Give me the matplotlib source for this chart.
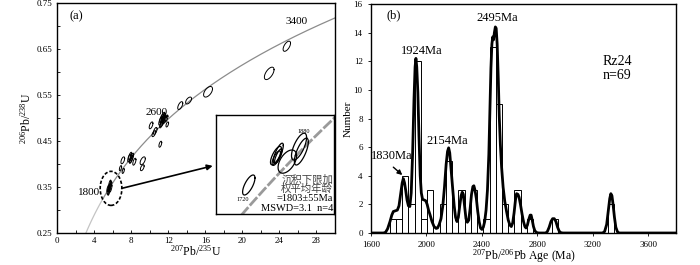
import numpy as np
import matplotlib
matplotlib.use("Agg")
import matplotlib.pyplot as plt
from matplotlib.patches import Ellipse
from matplotlib.ticker import MultipleLocator

plt.rcParams['font.family'] = ['Liberation Serif', 'Noto Sans CJK SC']
plt.rcParams['mathtext.fontset'] = 'custom'
plt.rcParams['mathtext.rm'] = 'Liberation Serif'
plt.rcParams['mathtext.it'] = 'Liberation Serif:italic'

# ---------------- data: panel (a) concordia ----------------
lam238 = 1.55125e-10
lam235 = 9.8485e-10
conc_ages_ma = [1400, 3500]          # range of the concordia curve
inset_ages_ma = [1675, 1915]         # range shown in the inset
conc_labels = ["1800", "2600", "3400"]

ell_x = [24.8, 22.9, 16.3, 14.2, 13.3,
         11.2, 11.3, 11.4, 11.35, 11.5, 11.25, 11.6, 11.45, 11.9, 11.8,
         10.15, 10.6, 10.45, 11.15,
         7.8, 7.9, 8.0, 8.1, 7.95, 8.35, 7.1, 9.25, 9.2, 6.85, 7.15,
         5.55, 5.65, 5.75, 5.6, 5.8, 5.7, 5.5]
ell_y = [0.656, 0.597, 0.557, 0.538, 0.527,
         0.494, 0.499, 0.496, 0.490, 0.501, 0.486, 0.496, 0.505, 0.486, 0.499,
         0.484, 0.472, 0.466, 0.443,
         0.413, 0.417, 0.411, 0.415, 0.408, 0.405, 0.408, 0.407, 0.392, 0.391, 0.385,
         0.343, 0.349, 0.353, 0.339, 0.347, 0.358, 0.347]
ell_sx = [0.40, 0.52, 0.48, 0.32, 0.27,
          0.22, 0.22, 0.24, 0.22, 0.22, 0.18, 0.20, 0.18, 0.14, 0.17,
          0.20, 0.20, 0.20, 0.15,
          0.17, 0.17, 0.17, 0.17, 0.14, 0.17, 0.20, 0.28, 0.20, 0.12, 0.12,
          0.15, 0.16, 0.16, 0.12, 0.13, 0.12, 0.12]
ell_sy = [0.011, 0.0135, 0.0115, 0.0075, 0.0085,
          0.0095, 0.010, 0.0095, 0.0085, 0.0095, 0.0075, 0.0085, 0.0075, 0.0055, 0.0075,
          0.0075, 0.0075, 0.0065, 0.0065,
          0.0085, 0.0085, 0.0085, 0.0085, 0.0065, 0.0075, 0.0075, 0.0085, 0.0065, 0.0055, 0.0055,
          0.009, 0.009, 0.009, 0.007, 0.008, 0.007, 0.007]
ell_rho = [0.6, 0.6, 0.55, 0.55, 0.6,
           0.7, 0.7, 0.7, 0.7, 0.7, 0.7, 0.7, 0.7, 0.55, 0.65,
           0.6, 0.6, 0.6, 0.55,
           0.65, 0.65, 0.65, 0.65, 0.65, 0.6, 0.55, 0.55, 0.55, 0.55, 0.55,
           0.7, 0.7, 0.7, 0.7, 0.7, 0.7, 0.7]

# inset (youngest grains)
in_x = [4.320, 4.721, 4.755, 4.755, 4.726, 4.888, 5.061, 5.095]
in_y = [0.3120, 0.3267, 0.3279, 0.3264, 0.3254, 0.3237, 0.3312, 0.3287]
in_sx = [0.091, 0.081, 0.074, 0.055, 0.062, 0.136, 0.111, 0.103]
in_sy = [0.0050, 0.0046, 0.0050, 0.0036, 0.0036, 0.0058, 0.0067, 0.0067]
in_rho = [0.7, 0.72, 0.78, 0.78, 0.72, 0.5, 0.68, 0.72]
in_text = ["沉积下限加", "权平均年龄", "=1803±55Ma", "MSWD=3.1  n=4"]

# ---------------- data: panel (b) histogram + probability curve ----------------
bin_start = 1735
bin_width = 45
counts = [1, 1, 4, 2, 12, 1, 3, 0, 2, 5, 0, 3, 0, 3, 0, 1, 13, 9, 2, 0, 3, 0, 1,
          0, 0, 0, 1, 0, 0, 0, 0, 0, 0, 0, 0, 2]

pdp_age = [1600, 1690, 1705, 1720, 1737, 1750, 1761, 1775, 1790, 1802, 1815, 1825, 1833,
           1842, 1850, 1860, 1870, 1880, 1890, 1900, 1910, 1918, 1924, 1930, 1938, 1946,
           1955, 1963, 1972, 1985, 1995, 2005, 2015, 2025, 2040, 2055, 2070, 2080, 2092,
           2105, 2118, 2130, 2142, 2152, 2160, 2168, 2178, 2190, 2200, 2210, 2220, 2230,
           2240, 2250, 2258, 2266, 2275, 2285, 2295, 2305, 2315, 2325, 2335, 2342, 2350,
           2360, 2370, 2380, 2390, 2400, 2410, 2420, 2430, 2440, 2450, 2458, 2465, 2472,
           2478, 2484, 2490, 2497, 2503, 2510, 2518, 2525, 2533, 2542, 2553, 2565, 2578,
           2590, 2602, 2612, 2622, 2632, 2642, 2650, 2660, 2668, 2678, 2690, 2700, 2710,
           2718, 2728, 2738, 2748, 2755, 2763, 2772, 2782, 2795, 2810, 2860, 2872, 2885,
           2898, 2910, 2922, 2934, 2946, 2958, 2970, 2985, 3270, 3285, 3300, 3312, 3322,
           3330, 3338, 3346, 3356, 3366, 3378, 3390, 3800]
pdp_val = [0, 0, 0.05, 0.3, 0.8, 1.25, 1.5, 1.55, 1.6, 1.9, 2.8, 3.5, 3.8,
           3.5, 3.0, 2.3, 1.9, 1.85, 2.8, 5.5, 9.3, 11.6, 12.2, 11.6, 9.8, 6.8,
           4.0, 2.8, 2.35, 2.3, 2.25, 2.0, 1.6, 1.3, 0.8, 0.45, 0.32, 0.35, 0.6,
           1.0, 1.9, 3.2, 4.8, 5.7, 5.95, 5.6, 4.4, 3.0, 1.9, 1.1, 0.8, 1.1,
           1.9, 2.6, 2.85, 2.7, 1.9, 1.0, 0.75, 0.9, 1.7, 2.7, 3.25, 3.3, 3.0,
           2.4, 1.5, 0.8, 0.35, 0.25, 0.4, 0.8, 1.6, 3.0, 5.5, 8.8, 11.5, 13.2,
           13.7, 13.5, 14.0, 14.4, 14.3, 13.2, 10.8, 8.2, 6.2, 4.6, 3.2, 2.2, 1.5,
           0.9, 0.55, 0.45, 0.7, 1.4, 2.3, 2.75, 2.7, 2.5, 2.0, 1.3, 0.8, 0.45,
           0.35, 0.55, 0.95, 1.25, 1.25, 0.9, 0.45, 0.15, 0.03, 0, 0, 0.1, 0.4,
           0.8, 1.0, 1.0, 0.8, 0.4, 0.12, 0.02, 0, 0, 0.1, 0.6, 1.6, 2.4,
           2.75, 2.6, 2.0, 1.1, 0.4, 0.08, 0, 0]

peak_labels = ["1924Ma", "2154Ma", "2495Ma", "1830Ma"]
sample_text = ["Rz24", "n=69"]


def ellipse_xy(cx, cy, sx, sy, rho, n=120):
    t = np.linspace(0, 2 * np.pi, n)
    return cx + sx * np.cos(t), cy + sy * (rho * np.cos(t) + np.sqrt(1 - rho ** 2) * np.sin(t))


fig = plt.figure(figsize=(7.0, 2.65), dpi=100)

# ================= panel (a) =================
axa = fig.add_axes([57 / 700, 32 / 265, 278 / 700, 230 / 265])
t = np.linspace(conc_ages_ma[0], conc_ages_ma[1], 400) * 1e6
cx_ = np.exp(lam235 * t) - 1
cy_ = np.exp(lam238 * t) - 1
low = t <= 1800e6
axa.plot(cx_[low], cy_[low], color='#c4c4c4', lw=0.9, zorder=1)
axa.plot(cx_[~low], cy_[~low], color='#8c8c8c', lw=0.9, zorder=1)

for x, y, sx, sy, r in zip(ell_x, ell_y, ell_sx, ell_sy, ell_rho):
    ex, ey = ellipse_xy(x, y, sx, sy, r)
    axa.plot(ex, ey, color='black', lw=0.7, zorder=3)

axa.set_xlim(0, 30)
axa.set_ylim(0.25, 0.75)
axa.xaxis.set_major_locator(MultipleLocator(4))
axa.xaxis.set_minor_locator(MultipleLocator(2))
axa.yaxis.set_minor_locator(MultipleLocator(0.05))
axa.set_yticks([0.25, 0.35, 0.45, 0.55, 0.65, 0.75])
axa.set_yticklabels(["0.25", "0.35", "0.45", "0.55", "0.65", "0.75"])
axa.tick_params(which='both', direction='in', labelsize=6.5, length=2.5, width=0.6)
axa.tick_params(axis='x', pad=3)
for s in axa.spines.values():
    s.set_linewidth(1.0)
axa.set_xlabel(r'$^{207}$Pb/$^{235}$U', fontsize=8.5, labelpad=-1)
axa.set_ylabel(r'$^{206}$Pb/$^{238}$U', fontsize=8.5, labelpad=2)

axa.text(1.4, 0.722, "(a)", fontsize=9, ha='left', va='center')
axa.text(4.6, 0.337, conc_labels[0], fontsize=8, ha='right', va='center')
axa.text(10.7, 0.511, conc_labels[1], fontsize=8, ha='center', va='center')
axa.text(25.9, 0.709, conc_labels[2], fontsize=8, ha='center', va='center')

axa.add_patch(Ellipse((5.83, 0.347), 2.34, 0.074, fill=False, ls=(0, (2, 1.2)),
                      lw=1.2, color='black', zorder=4))
axa.annotate("", xy=(16.8, 0.396), xytext=(6.98, 0.347),
             arrowprops=dict(arrowstyle='-|>', color='black', lw=1.2,
                             mutation_scale=8, shrinkA=0, shrinkB=0), zorder=5)

# inset
axi = fig.add_axes([215.7 / 700, 51 / 265, 118.6 / 700, 99 / 265])
axi.set_xlim(3.832, 5.581)
axi.set_ylim(0.2975, 0.3470)
ti = np.linspace(inset_ages_ma[0], inset_ages_ma[1], 200) * 1e6
axi.plot(np.exp(lam235 * ti) - 1, np.exp(lam238 * ti) - 1, color='#9a9a9a', lw=2.0,
         ls=(0, (4, 0.8)), zorder=1)
for x, y, sx, sy, r in zip(in_x, in_y, in_sx, in_sy, in_rho):
    ex, ey = ellipse_xy(x, y, sx, sy, r)
    axi.plot(ex, ey, color='black', lw=0.9, zorder=3)
axi.set_xticks([])
axi.set_yticks([])
for s in axi.spines.values():
    s.set_linewidth(1.0)
axi.text(4.23, 0.3049, "1720", fontsize=4.5, ha='center', va='center')
axi.text(5.134, 0.3387, "1880", fontsize=4.5, ha='center', va='center')
ys = [0.35, 0.253, 0.159, 0.058]
for i, (s, yy) in enumerate(zip(in_text, ys)):
    fam = ['Noto Sans CJK SC'] if i < 2 else ['Liberation Serif']
    axi.text(0.99, yy, s, transform=axi.transAxes, ha='right', va='center',
             fontsize=7.5, family=fam,
             color='#444444' if i < 2 else 'black', zorder=6)

# ================= panel (b) =================
axb = fig.add_axes([371 / 700, 32 / 265, 305 / 700, 229 / 265])
lefts = bin_start + bin_width * np.arange(len(counts))
axb.bar(lefts, counts, width=bin_width, align='edge', facecolor='white',
        edgecolor='black', lw=0.7, zorder=2)
axb.plot(pdp_age, pdp_val, color='black', lw=2.0, zorder=3, solid_joinstyle='round')
axb.set_xlim(1600, 3800)
axb.set_ylim(0, 16)
axb.xaxis.set_major_locator(MultipleLocator(400))
axb.yaxis.set_major_locator(MultipleLocator(2))
axb.tick_params(which='both', direction='out', labelsize=6.5, length=2.5, width=0.6)
axb.tick_params(axis='x', pad=3)
for s in axb.spines.values():
    s.set_linewidth(1.0)
axb.set_xlabel(r'$^{207}$Pb/$^{206}$Pb Age (Ma)', fontsize=8.5, labelpad=-1)
axb.set_ylabel('Number', fontsize=8, labelpad=1)

axb.text(1715, 15.2, "(b)", fontsize=9, ha='left', va='center')
axb.text(1965, 12.7, peak_labels[0], fontsize=9, ha='center', va='center')
axb.text(2149, 6.4, peak_labels[1], fontsize=9, ha='center', va='center')
axb.text(2508, 15.0, peak_labels[2], fontsize=9, ha='center', va='center')
axb.text(1749, 5.4, peak_labels[3], fontsize=9, ha='center', va='center')
axb.annotate("", xy=(1826, 4.05), xytext=(1761, 4.6),
             arrowprops=dict(arrowstyle='-|>', color='black', lw=1.0,
                             mutation_scale=7, shrinkA=0, shrinkB=0), zorder=5)
axb.text(3375, 12.0, sample_text[0], fontsize=10, ha='center', va='center')
axb.text(3375, 11.0, sample_text[1], fontsize=10, ha='center', va='center')

fig.savefig("out.png", dpi=100)
